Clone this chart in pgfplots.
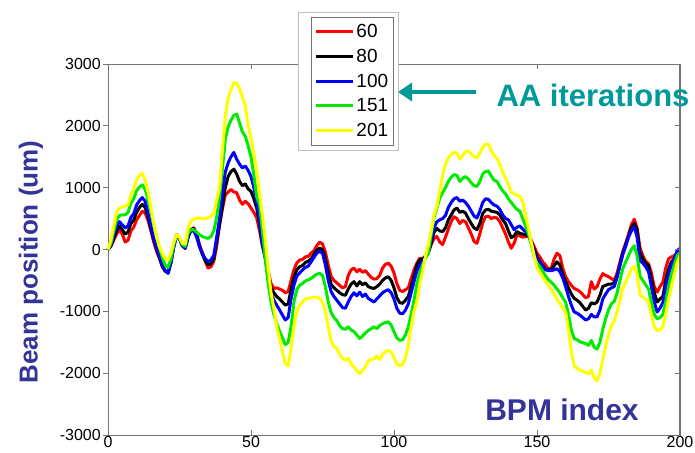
\documentclass[border=0pt]{standalone}
\usepackage{pgfplots}
\pgfplotsset{compat=1.18}
\usepackage{pgfplotstable}
\usepackage{fontspec}
\setmainfont{Liberation Sans}
\usetikzlibrary{arrows.meta}

\definecolor{labelblue}{RGB}{51,51,153}
\definecolor{annot}{RGB}{0,153,153}
\definecolor{yel}{RGB}{255,255,0}
\definecolor{grn}{RGB}{0,235,0}

% Beam position at each BPM for 60, 80, 100, 151 and 201 AA iterations
\pgfplotstableread{
x   r60   r80   r100  r151  r201
0   0     0     0     0     0
1   50    60    70    100   150
2   150   180   220   300   380
3   250   300   380   480   600
4   320   380   450   550   670
5   250   320   400   560   690
6   120   250   350   560   700
7   150   280   380   600   720
8   300   420   520   750   880
9   360   480   580   820   980
10  480   600   720   950   1130
11  550   680   790   1010  1200
12  620   730   840   1045  1230
13  590   680   780   970   1130
14  470   520   590   800   930
15  300   330   380   620   680
16  120   150   180   400   430
17  -30   0     30    200   200
18  -150  -130  -100  30    40
19  -280  -270  -250  -130  -60
20  -350  -350  -340  -250  -150
21  -370  -380  -385  -290  -170
22  -200  -210  -220  -150  -60
23  50    50    40    80    120
24  240   240   240   240   240
25  180   180   170   190   200
26  60    60    60    80    100
27  20    20    20    50    90
28  200   200   210   260   350
29  320   320   300   320   460
30  350   340   300   320   490
31  250   240   200   280   500
32  80    50    40    240   510
33  -50   -80   -60   210   500
34  -190  -180  -150  190   500
35  -300  -250  -195  180   510
36  -280  -230  -170  210   540
37  -190  -150  -90   300   590
38  50    130   200   520   800
39  400   400   500   850   1000
40  650   700   900   1300  1600
41  880   1000  1250  1780  2150
42  930   1180  1400  1980  2450
43  970   1260  1500  2090  2580
44  930   1300  1570  2170  2700
45  920   1220  1460  2190  2690
46  800   1100  1380  2050  2600
47  730   1030  1320  1900  2470
48  780   1060  1350  1830  2330
49  740   980   1280  1680  2000
50  670   940   1180  1500  1800
51  600   820   1000  1200  1550
52  510   670   760   850   1270
53  300   400   450   720   900
54  50    80    90    300   550
55  -120  -120  -150  -150  150
56  -350  -400  -450  -550  -300
57  -550  -620  -700  -850  -700
58  -630  -700  -820  -1050 -950
59  -620  -760  -900  -1200 -1250
60  -640  -800  -980  -1320 -1450
61  -660  -850  -1060 -1430 -1650
62  -700  -900  -1140 -1540 -1850
63  -680  -880  -1100 -1500 -1880
64  -500  -650  -800  -1250 -1600
65  -330  -450  -580  -850  -1250
66  -220  -330  -430  -650  -1000
67  -170  -280  -380  -580  -900
68  -160  -260  -330  -550  -850
69  -120  -210  -290  -510  -800
70  -110  -190  -270  -490  -790
71  -60   -150  -200  -470  -780
72  -20   -80   -130  -430  -770
73  60    -10   -60   -400  -770
74  120   20    -30   -385  -790
75  90    0     -60   -420  -850
76  -40   -150  -250  -600  -1000
77  -250  -380  -500  -850  -1250
78  -430  -560  -680  -1020 -1480
79  -500  -620  -760  -1100 -1570
80  -540  -660  -820  -1150 -1600
81  -580  -700  -880  -1230 -1700
82  -620  -730  -940  -1280 -1760
83  -600  -740  -950  -1290 -1790
84  -420  -640  -850  -1250 -1760
85  -330  -560  -760  -1300 -1850
86  -300  -520  -700  -1330 -1900
87  -360  -590  -750  -1380 -1960
88  -320  -520  -690  -1440 -2010
89  -370  -570  -760  -1400 -1950
90  -340  -540  -720  -1350 -1900
91  -400  -600  -790  -1310 -1800
92  -450  -620  -820  -1280 -1780
93  -480  -630  -850  -1250 -1770
94  -470  -600  -800  -1280 -1720
95  -420  -560  -750  -1230 -1780
96  -300  -500  -700  -1200 -1700
97  -240  -460  -670  -1180 -1650
98  -220  -440  -650  -1170 -1630
99  -270  -500  -700  -1220 -1660
100 -380  -620  -800  -1330 -1750
101 -550  -780  -950  -1430 -1850
102 -660  -860  -1030 -1470 -1880
103 -680  -870  -1040 -1460 -1860
104 -650  -820  -980  -1380 -1750
105 -620  -760  -880  -1250 -1550
106 -470  -600  -700  -1050 -1250
107 -330  -430  -520  -820  -1000
108 -220  -250  -350  -560  -840
109 -140  -170  -250  -380  -560
110 -160  -150  -180  -250  -350
111 -100  -110  -120  -140  -100
112 -50   -50   -50   -60   80
113 80    100   150   250   300
114 180   280   350   520   560
115 210   340   450   670   700
116 120   300   480   830   950
117 80    290   500   920   1200
118 200   350   550   1000  1380
119 330   480   680   1100  1480
120 450   560   760   1170  1540
121 530   640   820   1210  1570
122 500   670   840   1200  1560
123 420   600   780   1100  1460
124 470   620   800   1150  1520
125 450   590   760   1180  1580
126 350   500   700   1140  1600
127 250   420   620   1080  1540
128 130   350   540   1030  1500
129 100   320   510   1020  1480
130 250   420   620   1100  1560
131 430   580   760   1220  1650
132 530   640   820   1260  1700
133 540   650   810   1270  1700
134 500   620   760   1190  1600
135 520   610   720   1120  1520
136 510   600   700   1100  1470
137 450   560   650   1020  1380
138 350   480   560   950   1250
139 250   420   500   900   1150
140 120   300   480   820   1050
141 20    190   400   760   930
142 100   220   320   700   900
143 240   290   360   650   880
144 220   260   380   620   860
145 200   250   330   500   780
146 210   240   290   380   560
147 220   220   240   250   350
148 150   130   120   80    120
149 50    0     -40   -120  -100
150 -60   -120  -150  -220  -300
151 -120  -200  -200  -280  -370
152 -200  -260  -280  -350  -450
153 -250  -320  -330  -430  -520
154 -320  -330  -340  -490  -580
155 -300  -320  -340  -530  -650
156 -150  -260  -330  -580  -720
157 -60   -200  -310  -640  -800
158 -100  -250  -360  -700  -870
159 -300  -400  -460  -780  -950
160 -440  -520  -600  -850  -1010
161 -520  -620  -760  -1050 -1300
162 -580  -720  -900  -1300 -1650
163 -630  -790  -1010 -1440 -1880
164 -650  -820  -1030 -1460 -1920
165 -680  -860  -1060 -1490 -1950
166 -730  -920  -1100 -1510 -1970
167 -780  -980  -1140 -1520 -1990
168 -760  -950  -1120 -1550 -2010
169 -520  -860  -1050 -1470 -1950
170 -640  -880  -1090 -1580 -2080
171 -600  -850  -1090 -1610 -2120
172 -480  -740  -980  -1500 -2000
173 -390  -600  -800  -1290 -1780
174 -420  -580  -720  -1120 -1560
175 -440  -560  -650  -980  -1380
176 -470  -560  -620  -880  -1230
177 -500  -540  -600  -840  -1160
178 -380  -430  -450  -700  -1000
179 -200  -250  -260  -500  -820
180 -30   -60   -80   -310  -630
181 100   80    50    -200  -520
182 250   220   200   -100  -420
183 400   350   300   0     -320
184 490   420   370   60    -270
185 350   320   200   -100  -400
186 30    -50   -180  -430  -730
187 -100  -150  -220  -500  -770
188 -190  -220  -280  -570  -800
189 -230  -260  -360  -640  -860
190 -380  -480  -600  -850  -1060
191 -600  -700  -850  -1050 -1250
192 -690  -850  -1010 -1120 -1310
193 -600  -800  -950  -1100 -1300
194 -530  -760  -860  -1050 -1250
195 -300  -500  -600  -850  -1050
196 -150  -320  -400  -600  -800
197 -120  -200  -250  -400  -600
198 -100  -150  -150  -250  -400
199 -60   -60   -20   -100  -220
200 0     -10   20    -50   -100
}\orbit

\begin{document}
\begin{tikzpicture}[x=1pt,y=1pt]
\useasboundingbox (0,0) rectangle (695,452);

\begin{axis}[
  at={(108pt,17pt)}, anchor=south west,
  scale only axis, width=572pt, height=371pt,
  xmin=0, xmax=200, ymin=-3000, ymax=3000,
  xtick={0,50,...,200}, ytick={-3000,-2000,...,3000},
  scaled ticks=false,
  /pgf/number format/1000 sep={},
  /pgf/number format/assume math mode=true,
  tick label style={font=\fontsize{16}{19}\selectfont, text=black},
  xtick pos=both, xtick align=inside,
  ytick pos=left, ytick align=outside,
  major tick length=5pt,
  xticklabel style={inner sep=1.5pt},
  yticklabel style={inner sep=2pt},
  axis line style={black!55, line width=0.9pt},
  every tick/.style={black!55, line width=0.9pt},
  clip=false,
  legend style={at={(0.355,1.127)}, anchor=north west,
    draw=black!55, fill=white, line width=0.8pt,
    font=\fontsize{19}{20}\selectfont,
    inner xsep=3pt, inner ysep=5pt, row sep=6pt,
    cells={anchor=west}},
  legend image code/.code={\draw[#1, line width=3pt] (0pt,0pt) -- (37pt,0pt);},
  every axis plot/.append style={line width=3pt, line join=round},
]
\addplot[color=red]   table[x=x, y=r60]  {\orbit};
\addplot[color=black] table[x=x, y=r80]  {\orbit};
\addplot[color=blue]  table[x=x, y=r100] {\orbit};
\addplot[color=grn]   table[x=x, y=r151] {\orbit};
\addplot[color=yel]   table[x=x, y=r201] {\orbit};
\legend{60,80,100,151,201}
% light frame behind the legend box
\path[draw=black!25, fill=white, line width=0.6pt]
  (rel axis cs:0.332,0.768) rectangle (rel axis cs:0.507,1.140);
\end{axis}

% inward ticks on the right-hand side
\begin{axis}[
  at={(108pt,17pt)}, anchor=south west,
  scale only axis, width=572pt, height=371pt,
  xmin=0, xmax=200, ymin=-3000, ymax=3000,
  axis x line=none, axis y line*=right,
  ytick={-3000,-2000,...,3000}, yticklabels={},
  ytick align=inside, major tick length=5pt,
  axis line style={black!55, line width=1.6pt},
  every tick/.style={black!55, line width=0.9pt},
]
\end{axis}

\node[rotate=90, text=labelblue, font=\fontsize{26}{30}\selectfont\bfseries]
  at (31,190) {Beam position (um)};
\node[text=labelblue, font=\fontsize{30}{34}\selectfont\bfseries]
  at (562,42) {BPM index};
\node[text=annot, font=\fontsize{31}{35}\selectfont\bfseries]
  at (593,357) {AA iterations};
\draw[annot, line width=4pt, -{Triangle[length=14pt,width=18pt]}]
  (476,360) -- (398,360);
\end{tikzpicture}
\end{document}
